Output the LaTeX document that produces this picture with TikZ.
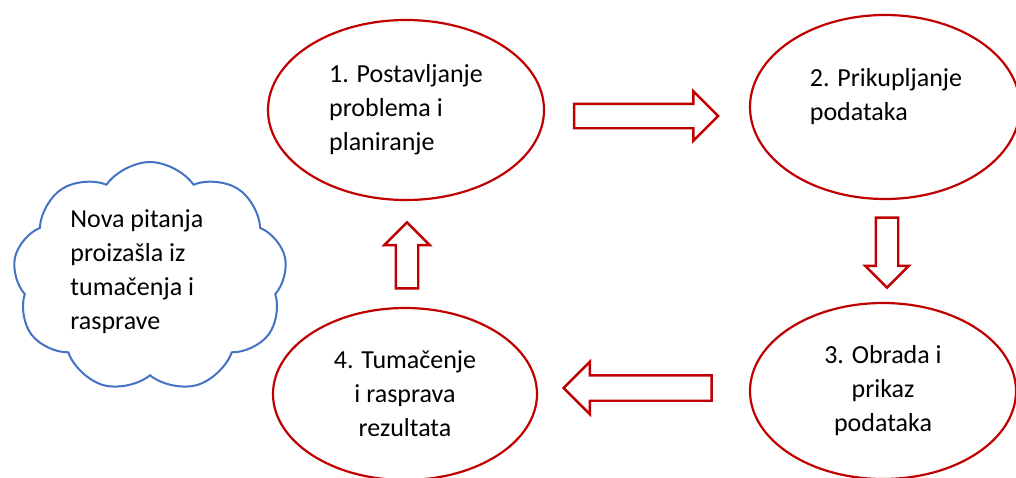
\documentclass[tikz,border=0pt]{standalone}
\usepackage{fontspec}
\setmainfont{Carlito}
\usetikzlibrary{shapes.geometric,shapes.symbols,shapes.arrows}
\definecolor{darkred}{HTML}{C00000}
\definecolor{cloudblue}{HTML}{4472C4}
\begin{document}
\begin{tikzpicture}[x=0.5pt,y=-0.5pt,font=\fontsize{13}{17}\selectfont]
\tikzstyle{phase}=[draw=darkred, line width=1.1pt, ellipse, inner sep=0pt]
\tikzstyle{bigarrow}=[draw=darkred, line width=1.2pt, fill=white, single arrow, single arrow tip angle=90]
\useasboundingbox (0,0) rectangle (1016,477);

\node[phase, minimum width=138pt, minimum height=90pt, align=left] (P1) at (406,110) {1. Postavljanje\\problema i\\planiranje};
\node[phase, minimum width=135pt, minimum height=92pt] (P2) at (885,107) {};
\node[align=left, inner sep=0pt] (T2) at (886,97) {2. Prikupljanje\\podataka};
\node[phase, minimum width=133pt, minimum height=88pt, align=center] (P3) at (883,391) {3. Obrada i\\prikaz\\podataka};
\node[phase, minimum width=132pt, minimum height=86pt, align=center] (P4) at (405,394) {4. Tumačenje\\i rasprava\\rezultata};

\node[draw=cloudblue, line width=1pt, cloud, cloud puffs=9, cloud puff arc=110, cloud ignores aspect, minimum width=137pt, minimum height=115pt] (C) at (150,277) {};
\node[align=left, anchor=west, inner sep=0pt] (CT) at (70,272) {Nova pitanja\\proizašla iz\\tumačenja i\\rasprave};

\node[bigarrow, minimum height=72pt, minimum width=23.5pt, inner sep=5.5pt, single arrow head extend=6.25pt] (A12) at (640,116) {};
\node[bigarrow, shape border rotate=270, minimum height=35pt, minimum width=20.5pt, inner sep=5pt, single arrow head extend=5.25pt] (A23) at (887,247) {};
\node[bigarrow, shape border rotate=180, minimum height=74pt, minimum width=25pt, inner sep=5.75pt, single arrow head extend=6.75pt] (A34) at (644,388) {};
\node[bigarrow, shape border rotate=90, minimum height=33pt, minimum width=21.5pt, inner sep=5pt, single arrow head extend=5.75pt] (A41) at (407,261) {};
\end{tikzpicture}
\end{document}
